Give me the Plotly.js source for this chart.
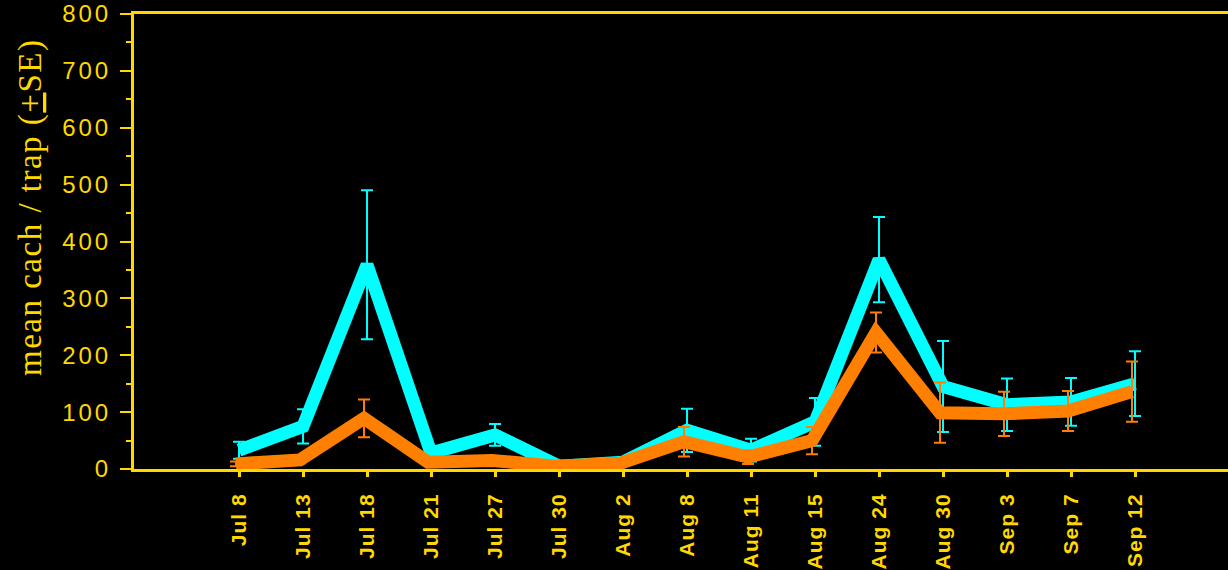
<!DOCTYPE html>
<html>
<head>
<meta charset="utf-8">
<script src="https://cdn.plot.ly/plotly-3.0.1.min.js"></script>
<style>
html, body { margin: 0; padding: 0; background: #000; }
#chart { width: 1228px; height: 570px; }
.yaxislayer-above .ytick text { letter-spacing: 3px; }
.xaxislayer-above .xtick text { letter-spacing: 1px; }
.annotation-text { letter-spacing: 1.5px; }
</style>
</head>
<body>
<div id="chart"></div>
<script>
// Sampling dates (category labels)
const dates = ["Jul 8","Jul 13","Jul 18","Jul 21","Jul 27","Jul 30","Aug 2","Aug 8","Aug 11","Aug 15","Aug 24","Aug 30","Sep 3","Sep 7","Sep 12"];

// Series 1 (cyan): mean catch per trap and standard error
const cyanMean = [33, 75, 359, 28, 60, 5, 12, 68, 33, 83, 368, 145, 113, 118, 150];
const cyanSE   = [15, 30, 131, 8, 19, 3, 4, 38, 20, 42, 75, 80, 46, 42, 57];

// Series 2 (orange): mean catch per trap and standard error
const orangeMean = [9, 16, 89, 12, 15, 5, 10, 48, 21, 50, 240, 99, 97, 102, 136];
const orangeSE   = [4, 6, 33, 4, 5, 2, 4, 26, 12, 24, 35, 53, 39, 35, 53];

const yTickVals = [0, 100, 200, 300, 400, 500, 600, 700, 800];

const YEL = "#FFD800";
const XR = [-1.641, 15.453];
const SHIFT = 0.047; // orange series sits a few pixels left of the cyan one

const traces = [
  {
    x: dates, y: cyanMean, type: "scatter", mode: "lines",
    xaxis: "x", yaxis: "y",
    line: { color: "#00FFFF", width: 13 },
    error_y: { type: "data", array: cyanSE, visible: true, color: "#00FFFF", thickness: 2, width: 6 },
    hoverinfo: "skip", showlegend: false
  },
  {
    x: dates, y: orangeMean, type: "scatter", mode: "lines",
    xaxis: "x2", yaxis: "y",
    line: { color: "#FF7F00", width: 13 },
    error_y: { type: "data", array: orangeSE, visible: true, color: "#FF7F00", thickness: 2, width: 6 },
    hoverinfo: "skip", showlegend: false
  }
];

const layout = {
  width: 1228, height: 570,
  paper_bgcolor: "#000", plot_bgcolor: "#000",
  margin: { l: 134, r: 0, t: 14, b: 101 },
  showlegend: false,
  xaxis: {
    type: "category",
    categoryorder: "array", categoryarray: dates,
    range: XR,
    showgrid: false, zeroline: false,
    showline: true, linecolor: YEL, linewidth: 3, mirror: true,
    ticks: "outside", ticklen: 5, tickwidth: 3, tickcolor: YEL,
    tickangle: -90,
    ticklabelstandoff: 8,
    tickfont: { family: "Liberation Sans, Arial, sans-serif", size: 21, color: YEL, weight: "bold" }
  },
  xaxis2: {
    type: "category",
    categoryorder: "array", categoryarray: dates,
    range: [XR[0] + SHIFT, XR[1] + SHIFT],
    overlaying: "x", visible: false
  },
  yaxis: {
    range: [0, 800],
    tickmode: "array", tickvals: yTickVals, ticktext: yTickVals.map(String),
    showgrid: false, zeroline: false,
    showline: true, linecolor: YEL, linewidth: 3, mirror: false,
    ticks: "outside", ticklen: 11, tickwidth: 2, tickcolor: YEL,
    minor: { dtick: 50, tick0: 0, ticks: "outside", ticklen: 5, tickwidth: 2, tickcolor: YEL, showgrid: false },
    ticklabelstandoff: 4,
    tickfont: { family: "Liberation Sans, Arial, sans-serif", size: 24, color: YEL }
  },
  annotations: [
    {
      text: "mean cach / trap (<span style='text-decoration:underline'>+</span>SE)",
      xref: "paper", yref: "paper",
      x: -0.0946, y: 0.5747,
      xanchor: "center", yanchor: "middle",
      textangle: -90, showarrow: false,
      font: { family: "Liberation Serif, Times New Roman, serif", size: 33, color: YEL }
    }
  ]
};

Plotly.newPlot("chart", traces, layout, { staticPlot: true, displayModeBar: false });
</script>
</body>
</html>
